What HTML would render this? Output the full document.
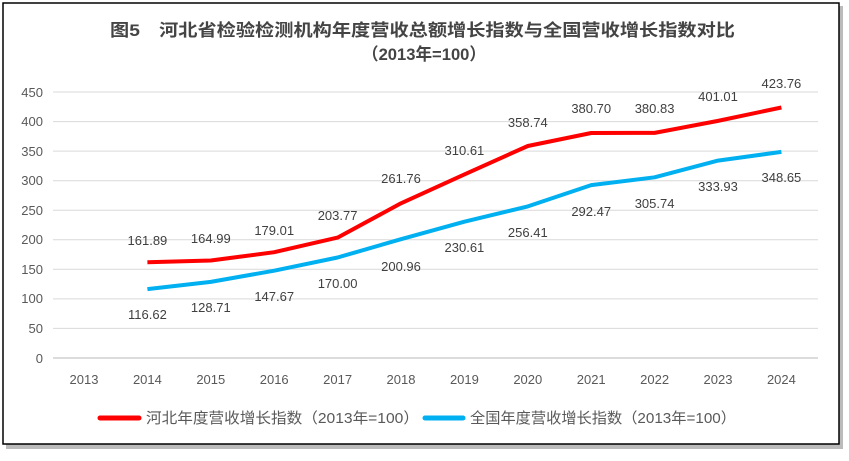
<!DOCTYPE html><html><head><meta charset="utf-8"><style>body{margin:0;background:#fff}</style></head><body>
<svg width="849" height="456" xmlns="http://www.w3.org/2000/svg" font-family="Liberation Sans, Noto Sans CJK SC, sans-serif">
<rect x="6" y="6" width="837" height="443" fill="#bbb"/>
<rect x="3" y="3" width="836" height="441" fill="#fff" stroke="#000" stroke-width="1.5"/>
<text x="110" y="36" font-size="17" font-weight="bold" fill="#444" textLength="625" lengthAdjust="spacingAndGlyphs">图5　河北省检验检测机构年度营收总额增长指数与全国营收增长指数对比</text>
<text x="362" y="60" font-size="17" font-weight="bold" fill="#444" textLength="124" lengthAdjust="spacingAndGlyphs">（2013年=100）</text>
<g stroke="#d9d9d9" stroke-width="1">
<line x1="53" x2="818" y1="92" y2="92"/><line x1="53" x2="818" y1="121.6" y2="121.6"/><line x1="53" x2="818" y1="151.1" y2="151.1"/><line x1="53" x2="818" y1="180.7" y2="180.7"/><line x1="53" x2="818" y1="210.2" y2="210.2"/><line x1="53" x2="818" y1="239.8" y2="239.8"/><line x1="53" x2="818" y1="269.3" y2="269.3"/><line x1="53" x2="818" y1="298.9" y2="298.9"/><line x1="53" x2="818" y1="328.4" y2="328.4"/></g>
<line x1="53" x2="818" y1="358" y2="358" stroke="#d0d0d0" stroke-width="1.5"/>
<g font-size="13" fill="#595959" text-anchor="end">
<text x="43" y="97">450</text><text x="43" y="126">400</text><text x="43" y="156">350</text><text x="43" y="185">300</text><text x="43" y="215">250</text><text x="43" y="244">200</text><text x="43" y="274">150</text><text x="43" y="303">100</text><text x="43" y="333">50</text><text x="43" y="363">0</text></g>
<g font-size="13" fill="#595959" text-anchor="middle">
<text x="84" y="384">2013</text><text x="147.4" y="384">2014</text><text x="210.8" y="384">2015</text><text x="274.2" y="384">2016</text><text x="337.6" y="384">2017</text><text x="401" y="384">2018</text><text x="464.4" y="384">2019</text><text x="527.8" y="384">2020</text><text x="591.2" y="384">2021</text><text x="654.6" y="384">2022</text><text x="718" y="384">2023</text><text x="781.4" y="384">2024</text></g>
<polyline fill="none" stroke="#ff0000" stroke-width="4" stroke-linejoin="round" points="147.4,262.3 210.8,260.5 274.2,252.2 337.6,237.6 401,203.3 464.4,174.4 527.8,146 591.2,133 654.6,132.9 718,120.9 781.4,107.5"/>
<polyline fill="none" stroke="#00b0f0" stroke-width="4" stroke-linejoin="round" points="147.4,289.1 210.8,281.9 274.2,270.7 337.6,257.5 401,239.2 464.4,221.7 527.8,206.4 591.2,185.1 654.6,177.3 718,160.6 781.4,151.9"/>
<g font-size="13" fill="#404040" text-anchor="middle">
<text x="147.4" y="245">161.89</text><text x="210.8" y="243">164.99</text><text x="274.2" y="235">179.01</text><text x="337.6" y="220">203.77</text><text x="401" y="183">261.76</text><text x="464.4" y="155">310.61</text><text x="527.8" y="127">358.74</text><text x="591.2" y="113">380.70</text><text x="654.6" y="113">380.83</text><text x="718" y="101">401.01</text><text x="781.4" y="88">423.76</text>
<text x="147.4" y="319">116.62</text><text x="210.8" y="312">128.71</text><text x="274.2" y="301">147.67</text><text x="337.6" y="288">170.00</text><text x="401" y="271">200.96</text><text x="464.4" y="252">230.61</text><text x="527.8" y="237">256.41</text><text x="591.2" y="216">292.47</text><text x="654.6" y="208">305.74</text><text x="718" y="191">333.93</text><text x="781.4" y="182">348.65</text></g>
<line x1="100" x2="139" y1="418" y2="418" stroke="#ff0000" stroke-width="5" stroke-linecap="round"/>
<text x="146" y="423" font-size="15" fill="#595959" textLength="273" lengthAdjust="spacingAndGlyphs">河北年度营收增长指数（2013年=100）</text>
<line x1="425" x2="463" y1="418" y2="418" stroke="#00b0f0" stroke-width="5" stroke-linecap="round"/>
<text x="470" y="423" font-size="15" fill="#595959" textLength="266" lengthAdjust="spacingAndGlyphs">全国年度营收增长指数（2013年=100）</text>
</svg></body></html>
